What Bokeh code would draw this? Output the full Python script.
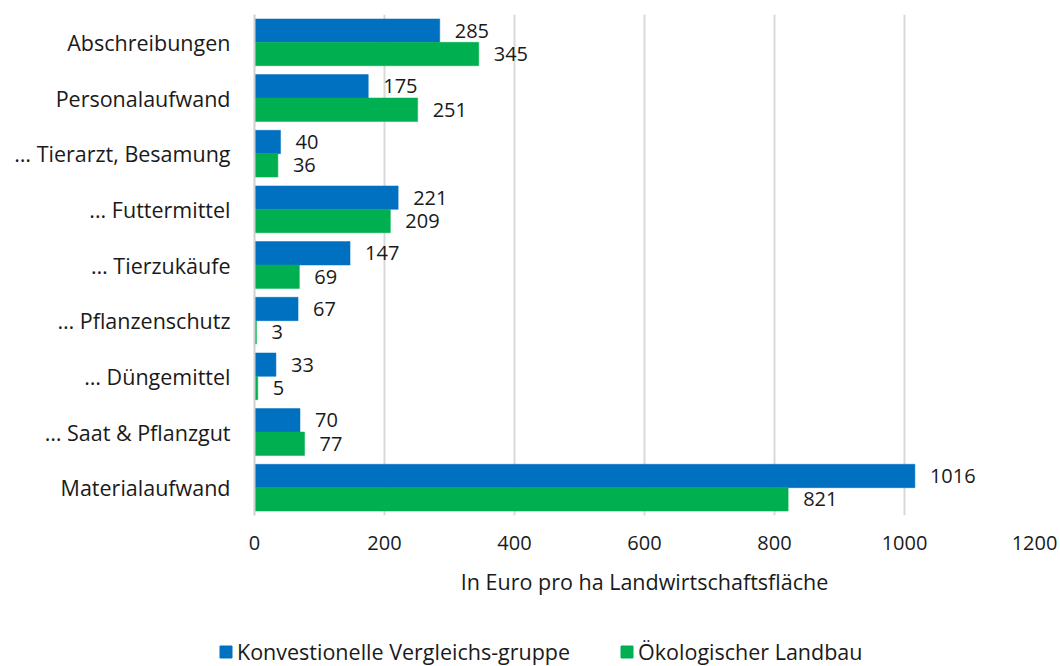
from bokeh.plotting import figure
from bokeh.layouts import column
from bokeh.models import FactorRange, Range1d, Legend, LegendItem, ColumnDataSource, FixedTicker
from bokeh.transform import dodge
from bokeh.core.properties import value
from bokeh.embed import file_html
from bokeh.resources import INLINE

categories = ["Abschreibungen", "Personalaufwand", "\u2026 Tierarzt, Besamung", "... Futtermittel",
              "\u2026 Tierzuk\u00e4ufe", "\u2026 Pflanzenschutz", "\u2026 D\u00fcngemittel",
              "\u2026 Saat & Pflanzgut", "Materialaufwand"]
konventionell = [285, 175, 40, 221, 147, 67, 33, 70, 1016]
oekologisch = [345, 251, 36, 209, 69, 3, 5, 77, 821]
x_ticks = [0, 200, 400, 600, 800, 1000, 1200]
series_names = ["Konvestionelle Vergleichs-gruppe", "\u00d6kologischer Landbau"]
x_title = "In Euro pro ha Landwirtschaftsfl\u00e4che"

BLUE = "#0070C0"
GREEN = "#00B050"
FONT = "Open Sans"
FS_NUM = "20px"
FS_TXT = "21.5px"
TXT = "#1a1a1a"

src = ColumnDataSource(dict(cat=categories, k=konventionell, o=oekologisch,
                            kl=[str(v) for v in konventionell], ol=[str(v) for v in oekologisch]))

p = figure(width=1060, height=616, output_backend="svg", toolbar_location=None,
           y_range=FactorRange(*reversed(categories)), x_range=Range1d(0, 1200),
           min_border_left=254, min_border_top=14, min_border_right=26, min_border_bottom=101)
p.outline_line_color = None
p.background_fill_color = "white"

rk = p.hbar(y=dodge("cat", 0.21, range=p.y_range), right="k", left=0, height=0.42,
            source=src, fill_color=BLUE, line_color=BLUE, line_width=0.5)
ro = p.hbar(y=dodge("cat", -0.21, range=p.y_range), right="o", left=0, height=0.42,
            source=src, fill_color=GREEN, line_color=GREEN, line_width=0.5)

for col, lab, off in [("k", "kl", 0.21), ("o", "ol", -0.21)]:
    p.text(x=col, y=dodge("cat", off, range=p.y_range), text=lab, source=src,
           x_offset=15, text_baseline="middle", text_align="left",
           text_font=value(FONT), text_font_size=FS_NUM, text_color=TXT)

p.xaxis.ticker = FixedTicker(ticks=x_ticks)
p.xaxis.axis_line_color = None
p.xaxis.major_tick_line_color = None
p.xaxis.minor_tick_line_color = None
p.xaxis.major_tick_out = 0
p.xaxis.major_label_standoff = 20
p.xaxis.major_label_text_font = FONT
p.xaxis.major_label_text_font_size = FS_NUM
p.xaxis.major_label_text_color = TXT
p.xaxis.axis_label = x_title
p.xaxis.axis_label_standoff = 14
p.xaxis.axis_label_text_font = FONT
p.xaxis.axis_label_text_font_size = FS_TXT
p.xaxis.axis_label_text_font_style = "normal"
p.xaxis.axis_label_text_color = TXT

p.yaxis.axis_line_color = "#d0d0d0"
p.yaxis.axis_line_width = 2
p.yaxis.major_tick_line_color = None
p.yaxis.minor_tick_line_color = None
p.yaxis.major_tick_out = 0
p.yaxis.major_label_standoff = 24
p.yaxis.major_label_text_font = FONT
p.yaxis.major_label_text_font_size = FS_TXT
p.yaxis.major_label_text_color = TXT

p.xgrid.grid_line_color = "#d9d9d9"
p.xgrid.grid_line_width = 2
p.ygrid.grid_line_color = None

# legend strip (separate small figure, frame not aligned with the chart)
p2 = figure(width=1060, height=50, output_backend="svg", toolbar_location=None,
            x_range=Range1d(0, 1), y_range=Range1d(0, 1), frame_align=False,
            min_border_left=0, min_border_right=0, min_border_top=0, min_border_bottom=0)
p2.axis.visible = False
p2.grid.visible = False
p2.outline_line_color = None
lk = p2.hbar(y=[-5], left=[0], right=[0], height=0.5, fill_color=BLUE, line_color=BLUE)
lo = p2.hbar(y=[-5], left=[0], right=[0], height=0.5, fill_color=GREEN, line_color=GREEN)
legend = Legend(items=[LegendItem(label=series_names[0], renderers=[lk]),
                       LegendItem(label=series_names[1], renderers=[lo])],
                orientation="horizontal", location=(218, 0),
                glyph_width=15, glyph_height=15, label_standoff=4, spacing=49,
                padding=0, margin=0, border_line_color=None, background_fill_alpha=0,
                label_text_font=FONT, label_text_font_size=FS_TXT, label_text_color=TXT,
                label_height=15)
p2.add_layout(legend, "center")

layout = column(p, p2, spacing=0)
open("out.html", "w").write(file_html(layout, INLINE))
